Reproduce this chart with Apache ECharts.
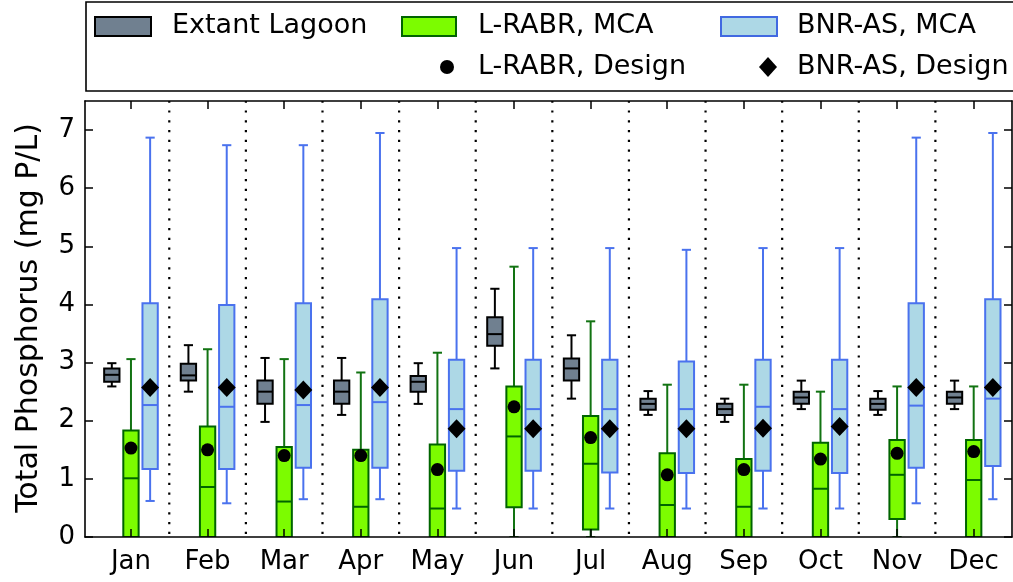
<!DOCTYPE html>
<html>
<head>
<meta charset="utf-8">
<script src="https://cdn.jsdelivr.net/npm/echarts@6/dist/echarts.min.js"></script>
<style>
  html, body { margin: 0; padding: 0; background: #fff; }
  #chart { width: 1013px; height: 582px; }
</style>
</head>
<body>
<div id="chart"></div>
<script>
// Monthly total phosphorus: lagoon, L-RABR and BNR-AS Monte Carlo boxes plus design values
const months = ['Jan', 'Feb', 'Mar', 'Apr', 'May', 'Jun', 'Jul', 'Aug', 'Sep', 'Oct', 'Nov', 'Dec'];
const yTicks = [0, 1, 2, 3, 4, 5, 6, 7];

// each box: [lower whisker, Q1, median, Q3, upper whisker] in mg P/L
const extantLagoon = [
  [2.59, 2.67, 2.79, 2.90, 2.99],
  [2.50, 2.69, 2.78, 2.98, 3.30],
  [1.98, 2.29, 2.50, 2.69, 3.08],
  [2.10, 2.29, 2.50, 2.69, 3.08],
  [2.29, 2.50, 2.67, 2.77, 2.99],
  [2.90, 3.29, 3.49, 3.78, 4.27],
  [2.38, 2.69, 2.90, 3.07, 3.47],
  [2.10, 2.19, 2.29, 2.38, 2.51],
  [1.98, 2.10, 2.20, 2.29, 2.38],
  [2.20, 2.29, 2.40, 2.50, 2.69],
  [2.10, 2.19, 2.29, 2.38, 2.51],
  [2.20, 2.29, 2.40, 2.50, 2.69]
];
const lrabrMCA = [
  [0, 0, 1.01, 1.83, 3.06],
  [0, 0, 0.86, 1.90, 3.23],
  [0, 0, 0.61, 1.55, 3.06],
  [0, 0, 0.52, 1.50, 2.83],
  [0, 0, 0.49, 1.59, 3.17],
  [0, 0.51, 1.73, 2.59, 4.65],
  [0, 0.13, 1.26, 2.08, 3.71],
  [0, 0, 0.55, 1.44, 2.62],
  [0, 0, 0.52, 1.34, 2.62],
  [0, 0, 0.83, 1.62, 2.50],
  [0, 0.31, 1.07, 1.67, 2.59],
  [0, 0, 0.98, 1.67, 2.59]
];
const bnrasMCA = [
  [0.62, 1.17, 2.27, 4.02, 6.87],
  [0.58, 1.17, 2.24, 3.99, 6.74],
  [0.65, 1.19, 2.27, 4.02, 6.74],
  [0.65, 1.19, 2.32, 4.09, 6.95],
  [0.49, 1.14, 2.20, 3.05, 4.97],
  [0.49, 1.14, 2.20, 3.05, 4.97],
  [0.49, 1.11, 2.20, 3.05, 4.97],
  [0.49, 1.10, 2.20, 3.02, 4.94],
  [0.49, 1.14, 2.24, 3.05, 4.97],
  [0.49, 1.10, 2.20, 3.05, 4.97],
  [0.58, 1.19, 2.26, 4.02, 6.87],
  [0.65, 1.22, 2.38, 4.09, 6.95]
];
const lrabrDesign = [1.53, 1.50, 1.40, 1.40, 1.16, 2.24, 1.71, 1.07, 1.16, 1.34, 1.44, 1.47];
const bnrasDesign = [2.57, 2.57, 2.53, 2.57, 1.86, 1.86, 1.86, 1.86, 1.87, 1.90, 2.57, 2.57];

const FONT = 'DejaVu Sans';
const LEGEND_FS = 27;
const Y_MIN = 0, Y_MAX = 7.5;
const X_MIN = 0.4, X_MAX = 12.5;
const BOX_W = 0.2;     // box width in month units
const CAP_W = 0.12;    // whisker cap width
const SHIFT = 0.25;    // side-by-side offset of the three boxes
const LW = 2;          // box / whisker stroke width

const monthPos = months.map((m, i) => i + 1);
const separatorPos = months.slice(1).map((m, i) => i + 1.5);

function boxRows(boxes, shift) {
  return boxes.map((b, i) => [monthPos[i] + shift].concat(b));
}

function boxRenderer(fill, edge, whisker, median) {
  return function (params, api) {
    const x = api.value(0);
    const lo = api.coord([x, api.value(1)]);
    const q1 = api.coord([x, api.value(2)]);
    const md = api.coord([x, api.value(3)]);
    const q3 = api.coord([x, api.value(4)]);
    const hi = api.coord([x, api.value(5)]);
    const w = api.size([BOX_W, 0])[0];
    const cw = api.size([CAP_W, 0])[0];
    const cx = lo[0];
    const seg = (x1, y1, x2, y2, color) => ({
      type: 'line',
      shape: { x1: x1, y1: y1, x2: x2, y2: y2 },
      style: { stroke: color, lineWidth: LW }
    });
    return {
      type: 'group',
      children: [
        seg(cx, q3[1], cx, hi[1], whisker),
        seg(cx, q1[1], cx, lo[1], whisker),
        seg(cx - cw / 2, hi[1], cx + cw / 2, hi[1], whisker),
        seg(cx - cw / 2, lo[1], cx + cw / 2, lo[1], whisker),
        {
          type: 'rect',
          shape: { x: cx - w / 2, y: q3[1], width: w, height: q1[1] - q3[1] },
          style: { fill: fill, stroke: edge, lineWidth: LW }
        },
        seg(cx - w / 2, md[1], cx + w / 2, md[1], median)
      ]
    };
  };
}

const frameLine = { show: true, onZero: false, lineStyle: { color: '#000', width: 1.6 } };
const tickStyle = { color: '#000', width: 1.5 };

const chart = echarts.init(document.getElementById('chart'), null, { renderer: 'canvas' });

chart.setOption({
  animation: false,
  backgroundColor: '#fff',
  grid: { left: 85, right: 1, top: 101, bottom: 45 },
  xAxis: [
    {
      type: 'value', min: X_MIN, max: X_MAX, position: 'bottom', z: 5,
      axisLine: frameLine,
      axisTick: { show: true, inside: true, length: 8, customValues: monthPos, lineStyle: tickStyle },
      axisLabel: {
        customValues: monthPos, margin: 12, color: '#000', fontSize: 26, fontFamily: FONT,
        formatter: v => months[Math.round(v) - 1]
      },
      splitLine: { show: false }
    },
    {
      type: 'value', min: X_MIN, max: X_MAX, position: 'top', z: 5,
      axisLine: frameLine,
      axisTick: { show: true, inside: true, length: 8, customValues: monthPos, lineStyle: tickStyle },
      axisLabel: { show: false },
      splitLine: { show: false }
    }
  ],
  yAxis: [
    {
      type: 'value', min: Y_MIN, max: Y_MAX, interval: 1, position: 'left', z: 5,
      axisLine: frameLine,
      axisTick: { show: true, inside: true, length: 8, customValues: yTicks, lineStyle: tickStyle },
      axisLabel: { customValues: yTicks, margin: 10, color: '#000', fontSize: 26, fontFamily: FONT },
      splitLine: { show: false }
    },
    {
      type: 'value', min: Y_MIN, max: Y_MAX, interval: 1, position: 'right', z: 5,
      axisLine: frameLine,
      axisTick: { show: true, inside: true, length: 8, customValues: yTicks, lineStyle: tickStyle },
      axisLabel: { show: false },
      splitLine: { show: false }
    }
  ],
  graphic: [
    // legend frame
    { type: 'rect', z: 100, shape: { x: 86, y: 2, width: 940, height: 89 },
      style: { fill: '#fff', stroke: '#000', lineWidth: 1.6 } },
    { type: 'rect', z: 101, shape: { x: 95, y: 17, width: 56, height: 19 },
      style: { fill: '#708090', stroke: '#000', lineWidth: 2 } },
    { type: 'text', z: 101, x: 172, y: 26,
      style: { text: 'Extant Lagoon', fontSize: LEGEND_FS, fontFamily: FONT, fill: '#000', verticalAlign: 'middle' } },
    { type: 'rect', z: 101, shape: { x: 402, y: 17, width: 54, height: 19 },
      style: { fill: '#7CFC00', stroke: '#006400', lineWidth: 2 } },
    { type: 'text', z: 101, x: 478, y: 26,
      style: { text: 'L-RABR, MCA', fontSize: LEGEND_FS, fontFamily: FONT, fill: '#000', verticalAlign: 'middle' } },
    { type: 'rect', z: 101, shape: { x: 721, y: 17, width: 56, height: 19 },
      style: { fill: '#ADD8E6', stroke: '#4169E1', lineWidth: 2 } },
    { type: 'text', z: 101, x: 797, y: 26,
      style: { text: 'BNR-AS, MCA', fontSize: LEGEND_FS, fontFamily: FONT, fill: '#000', verticalAlign: 'middle' } },
    { type: 'circle', z: 101, shape: { cx: 447, cy: 67, r: 7 }, style: { fill: '#000' } },
    { type: 'text', z: 101, x: 478, y: 67,
      style: { text: 'L-RABR, Design', fontSize: LEGEND_FS, fontFamily: FONT, fill: '#000', verticalAlign: 'middle' } },
    { type: 'polygon', z: 101, shape: { points: [[768, 57], [777, 67], [768, 77], [759, 67]] }, style: { fill: '#000' } },
    { type: 'text', z: 101, x: 797, y: 67,
      style: { text: 'BNR-AS, Design', fontSize: LEGEND_FS, fontFamily: FONT, fill: '#000', verticalAlign: 'middle' } },
    // y axis title
    { type: 'text', z: 101, x: 29, y: 318, rotation: Math.PI / 2,
      style: { text: 'Total Phosphorus (mg P/L)', fontSize: 30, fontFamily: FONT, fill: '#000',
               align: 'center', verticalAlign: 'middle' } }
  ],
  series: [
    {
      name: 'separators', type: 'custom', z: 1, clip: true,
      data: separatorPos.map(p => [p]),
      encode: { x: 0 },
      renderItem: function (params, api) {
        const bot = api.coord([api.value(0), Y_MIN]);
        const top = api.coord([api.value(0), Y_MAX]);
        return {
          type: 'line',
          shape: { x1: bot[0], y1: bot[1] - 3, x2: top[0], y2: top[1] },
          style: { stroke: '#000', lineWidth: 2.2, lineDash: [2.2, 7.6] }
        };
      }
    },
    {
      name: 'Extant Lagoon', type: 'custom', z: 2, clip: true,
      data: boxRows(extantLagoon, -SHIFT),
      encode: { x: 0, y: [1, 2, 3, 4, 5] },
      renderItem: boxRenderer('#708090', '#000', '#000', '#000')
    },
    {
      name: 'L-RABR, MCA', type: 'custom', z: 2, clip: true,
      data: boxRows(lrabrMCA, 0),
      encode: { x: 0, y: [1, 2, 3, 4, 5] },
      renderItem: boxRenderer('#7CFC00', '#006400', '#127312', '#006400')
    },
    {
      name: 'BNR-AS, MCA', type: 'custom', z: 2, clip: true,
      data: boxRows(bnrasMCA, SHIFT),
      encode: { x: 0, y: [1, 2, 3, 4, 5] },
      renderItem: boxRenderer('#ADD8E6', '#4A72EE', '#4A72EE', '#4A72EE')
    },
    {
      name: 'L-RABR, Design', type: 'scatter', z: 3,
      symbol: 'circle', symbolSize: 13,
      itemStyle: { color: '#000', opacity: 1 },
      data: lrabrDesign.map((v, i) => [monthPos[i], v])
    },
    {
      name: 'BNR-AS, Design', type: 'scatter', z: 3,
      symbol: 'diamond', symbolSize: [18, 19],
      itemStyle: { color: '#000', opacity: 1 },
      data: bnrasDesign.map((v, i) => [monthPos[i] + SHIFT, v])
    }
  ]
});
</script>
</body>
</html>
